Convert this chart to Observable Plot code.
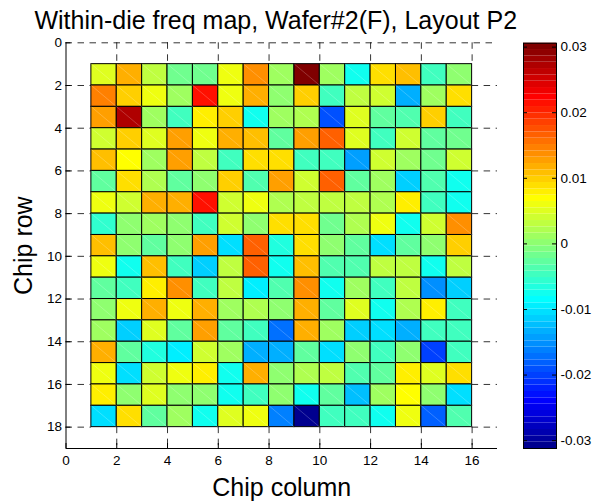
<!DOCTYPE html>
<html>
<head>
<meta charset="utf-8">
<script src="https://cdn.jsdelivr.net/npm/d3@7"></script>
<script src="https://cdn.jsdelivr.net/npm/@observablehq/plot@0.6"></script>
<style>
  html, body { margin: 0; padding: 0; background: #fff; }
  #chart { position: relative; width: 597px; height: 501px; }
  #chart svg { position: absolute; left: 0; top: 0; background: transparent; }
</style>
</head>
<body>
<div id="chart"></div>
<script>
// ---- data ----
const titleText = "Within-die freq map, Wafer#2(F), Layout P2";
const xLabel = "Chip column";
const yLabel = "Chip row";
const chipColumns = [1,2,3,4,5,6,7,8,9,10,11,12,13,14,15];
const chipRows = [1,2,3,4,5,6,7,8,9,10,11,12,13,14,15,16,17];
const freqRow01 = [0.005, 0.012, 0.003, -0.002, -0.0015, 0.006, 0.014, 0.001, 0.0306, 0.0015, -0.0075, 0.009, 0.011, -0.005, 0.0005];
const freqRow02 = [0.015, 0.010, 0.006, 0.0015, 0.021, 0.006, 0.012, 0.0005, 0.010, -0.0045, 0.0035, 0.0045, -0.0135, 0.0015, 0.0085];
const freqRow03 = [0.0125, 0.027, 0.0015, -0.0045, 0.0075, 0.010, -0.0075, 0.0015, 0.002, -0.019, 0.005, -0.003, -0.0035, 0.010, -0.0045];
const freqRow04 = [0.0045, 0.010, 0.005, 0.013, 0.006, 0.012, 0.011, -0.003, 0.013, 0.017, 0.005, -0.0045, 0.0045, -0.003, -0.0015];
const freqRow05 = [0.011, 0.007, 0.0015, 0.0125, 0.0035, -0.0045, 0.009, 0.009, -0.0045, -0.0045, -0.0145, 0.0045, 0.0015, -0.0015, 0.0045];
const freqRow06 = [-0.003, 0.0085, 0.002, -0.0025, 0, 0.010, -0.0035, 0.013, 0.0045, 0.0165, -0.0025, 0.0015, -0.011, -0.0035, -0.0075];
const freqRow07 = [0.006, 0.0045, 0.012, 0.0115, 0.021, 0.0045, 0.006, 0.002, 0.0035, 0.0035, 0.003, 0.002, 0.0075, -0.0045, -0.0075];
const freqRow08 = [-0.006, 0, 0.0015, 0, -0.005, 0.0045, 0.0005, 0.009, 0.0085, -0.0015, 0.002, 0.006, -0.008, 0.0045, 0.014];
const freqRow09 = [0.011, 0, -0.003, 0.0005, 0.013, -0.0105, 0.017, -0.007, 0.009, 0, -0.0025, -0.0105, -0.0025, 0, 0.010];
const freqRow10 = [0.006, -0.0075, 0.011, -0.005, -0.011, 0.0035, 0.0165, -0.0075, 0.011, -0.0035, -0.0035, 0.003, 0.0035, -0.0075, 0.0035];
const freqRow11 = [-0.003, -0.005, 0.0075, 0.014, -0.005, 0.003, -0.009, -0.0035, 0.014, -0.0075, 0.0015, -0.005, 0.003, -0.015, -0.011];
const freqRow12 = [0.0005, 0.006, 0.012, 0.006, 0.012, 0.0015, 0.002, 0.0005, 0.0115, -0.0025, 0.005, -0.0075, 0.002, 0.0075, -0.005];
const freqRow13 = [0.0015, -0.011, 0.005, -0.0025, 0.013, -0.0025, -0.005, -0.0175, 0.012, 0.0015, -0.011, -0.0105, -0.0135, -0.0045, -0.005];
const freqRow14 = [0.0115, -0.0025, -0.007, -0.009, 0.0045, 0.0015, -0.013, -0.013, -0.0025, -0.0105, 0.0005, -0.0045, 0, -0.02, -0.005];
const freqRow15 = [0.006, -0.0105, 0.0045, 0.006, 0.0075, -0.008, 0.0115, 0, 0.002, 0.003, -0.0035, -0.0025, 0.008, 0.005, 0.009];
const freqRow16 = [0.008, 0.0005, 0.005, 0.0005, 0.0005, -0.0075, -0.0045, 0, -0.008, -0.0025, -0.012, 0.0015, 0.007, 0.0005, -0.0105];
const freqRow17 = [-0.0105, 0.0085, -0.003, 0.0015, -0.008, 0.005, 0.006, -0.0165, -0.0312, -0.0045, -0.0045, -0.0075, 0.006, -0.018, -0.0035];
const freqRows = [freqRow01, freqRow02, freqRow03, freqRow04, freqRow05, freqRow06, freqRow07, freqRow08, freqRow09,
                  freqRow10, freqRow11, freqRow12, freqRow13, freqRow14, freqRow15, freqRow16, freqRow17];
const xTicks = [0, 2, 4, 6, 8, 10, 12, 14, 16];
const yTicks = [0, 2, 4, 6, 8, 10, 12, 14, 16, 18];
const colorbarTicks = [-0.03, -0.02, -0.01, 0, 0.01, 0.02, 0.03];
const xLimits = [0, 17];
const yLimits = [0, 19];

// ---- MATLAB jet(64) colormap ----
function jet(m) {
  const n = Math.ceil(m / 4);
  const u = [];
  for (let i = 1; i <= n; i++) u.push(i / n);
  for (let i = 1; i < n; i++) u.push(1);
  for (let i = n; i >= 1; i--) u.push(i / n);
  const g0 = Math.ceil(n / 2) - (m % 4 === 1 ? 1 : 0);
  const R = new Array(m).fill(0), G = new Array(m).fill(0), B = new Array(m).fill(0);
  u.forEach((v, k) => {
    const g = g0 + k + 1, r = g + n, b = g - n;
    if (g >= 1 && g <= m) G[g - 1] = v;
    if (r >= 1 && r <= m) R[r - 1] = v;
    if (b >= 1 && b <= m) B[b - 1] = v;
  });
  return R.map((r, i) => d3.rgb(r * 255, G[i] * 255, B[i] * 255).formatHex());
}
const jet64 = jet(64);

// ---- tables ----
const cells = [];
freqRows.forEach((vals, i) => vals.forEach((v, j) => cells.push({col: chipColumns[j], row: chipRows[i], value: v})));
const allVals = cells.map(d => d.value);
const cMin = d3.min(allVals), cMax = d3.max(allVals);
const colorScale = {type: "quantize", domain: [cMin, cMax], range: jet64};
const bands = d3.range(64).map(k => {
  const lo = cMin + (cMax - cMin) * k / 64, hi = cMin + (cMax - cMin) * (k + 1) / 64;
  return {lo, hi, mid: (lo + hi) / 2};
});

// grid segments only where the cells do not cover them
const colLo = d3.min(chipColumns), colHi = d3.max(chipColumns) + 1;
const rowLo = d3.min(chipRows), rowHi = d3.max(chipRows) + 1;
const gridH = [];
yTicks.forEach(y => {
  if (y < rowLo || y > rowHi) gridH.push({y, x1: xLimits[0], x2: xLimits[1]});
  else { gridH.push({y, x1: xLimits[0], x2: colLo}); gridH.push({y, x1: colHi, x2: xLimits[1]}); }
});
const gridV = [];
xTicks.filter(x => x > xLimits[0]).forEach(x => {
  if (x < colLo || x > colHi) gridV.push({x, y1: yLimits[0], y2: yLimits[1]});
  else { gridV.push({x, y1: yLimits[0], y2: rowLo}); gridV.push({x, y1: rowHi, y2: yLimits[1]}); }
});

const W = 597, H = 501;
const font = "'Liberation Sans', Arial, Helvetica, sans-serif";
const mL = 65.5, mR = 100, mT = 42.3, mB = 53;
const frameW = W - mL - mR, frameH = H - mT - mB;
const dash = "6.5,5.5";

const main = Plot.plot({
  width: W, height: H,
  marginLeft: mL, marginRight: mR, marginTop: mT, marginBottom: mB,
  style: {fontFamily: font, fontSize: "13.5px", color: "black", background: "transparent", overflow: "visible"},
  x: {domain: xLimits, ticks: xTicks, tickSize: 0, tickPadding: 7, label: null},
  y: {domain: yLimits, reverse: true, ticks: yTicks, tickSize: 0, tickPadding: 4, label: null},
  color: colorScale,
  marks: [
    Plot.ruleY(gridH, {y: "y", x1: "x1", x2: "x2", stroke: "black", strokeWidth: 0.8, strokeDasharray: dash}),
    Plot.ruleX(gridV, {x: "x", y1: "y1", y2: "y2", stroke: "black", strokeWidth: 0.8, strokeDasharray: dash}),
    Plot.rect(cells, {x1: "col", x2: d => d.col + 1, y1: "row", y2: d => d.row + 1, fill: "value", stroke: "black", strokeWidth: 1}),
    Plot.link(cells, {x1: "col", y1: "row", x2: d => d.col + 1, y2: d => d.row + 1, stroke: "white", strokeOpacity: 0.3, strokeWidth: 0.7}),
    Plot.ruleX([xLimits[0]], {y1: yLimits[0], y2: yLimits[1], stroke: "black", strokeWidth: 1}),
    Plot.ruleY([yLimits[1]], {x1: xLimits[0], x2: xLimits[1], stroke: "black", strokeWidth: 1}),
    Plot.tickX(xTicks, {x: d => d, insetTop: frameH - 5, stroke: "black"}),
    Plot.tickY(yTicks, {y: d => d, insetRight: frameW - 5, stroke: "black"}),
    Plot.text([titleText], {text: d => d, frameAnchor: "top", textAnchor: "middle", lineAnchor: "middle", dx: -6, dy: -22, fontSize: 25, fill: "black"}),
    Plot.text([xLabel], {text: d => d, frameAnchor: "bottom", textAnchor: "middle", lineAnchor: "middle", dy: 39, fontSize: 25, fill: "black"}),
    Plot.text([yLabel], {text: d => d, frameAnchor: "left", textAnchor: "middle", lineAnchor: "middle", dx: -42.5, rotate: -90, fontSize: 25, fill: "black"})
  ]
});

const cbL = 523, cbR = 556, cbT = 42.7, cbB = 448;
const cbW = cbR - cbL;
const colorbar = Plot.plot({
  width: W, height: H,
  marginLeft: cbL, marginRight: W - cbR, marginTop: cbT, marginBottom: H - cbB,
  style: {fontFamily: font, fontSize: "13.5px", color: "black", background: "transparent", overflow: "visible"},
  x: {domain: [0, 1], axis: null},
  y: {domain: [cMin, cMax], axis: "right", ticks: colorbarTicks, tickSize: 0, tickPadding: 4,
      tickFormat: d => d === 0 ? "0" : d.toFixed(2), label: null},
  color: colorScale,
  marks: [
    Plot.rect(bands, {x1: 0, x2: 1, y1: "lo", y2: "hi", fill: "mid"}),
    Plot.tickY(colorbarTicks, {y: d => d, insetRight: cbW - 4, stroke: "black"}),
    Plot.tickY(colorbarTicks, {y: d => d, insetLeft: cbW - 4, stroke: "black"}),
    Plot.frame({stroke: "black", strokeWidth: 1})
  ]
});

const chart = document.getElementById("chart");
chart.appendChild(main);
chart.appendChild(colorbar);
</script>
</body>
</html>
